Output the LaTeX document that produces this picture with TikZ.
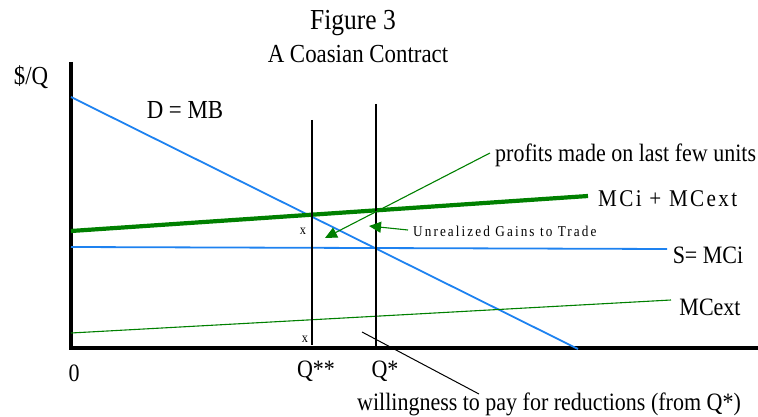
\documentclass[tikz,border=0pt]{standalone}
\usepackage{fontspec}
\setmainfont{Liberation Serif}[FakeStretch=0.88]
\usetikzlibrary{arrows.meta,calc}
\definecolor{dblue}{RGB}{30,130,240}
\definecolor{dgreen}{RGB}{0,128,0}
\tikzset{
  axis/.style={line width=3.8pt},
  blueline/.style={dblue, line width=1.8pt},
  greenthick/.style={dgreen, line width=4.2pt},
  greenthin/.style={dgreen, line width=1.1pt},
  vline/.style={black, line width=1.1pt},
  lbl/.style={inner sep=0pt, anchor=base, font=\fontsize{25}{28}\selectfont},
  small/.style={inner sep=0pt, anchor=base, font=\fontsize{14}{16}\selectfont},
  pointer/.style={-{Triangle[length=12pt,width=11pt]}},
}
\begin{document}
\begin{tikzpicture}[x=1pt,y=-1pt]
\useasboundingbox (0,0) rectangle (758,417);
% title
\node[lbl, font=\fontsize{29}{32}\selectfont] (t1) at (353,30) {Figure 3};
\node[lbl, font=\fontsize{26}{29}\selectfont] (t2) at (358,63) {A Coasian Contract};
% axes
\coordinate (o) at (71,348);
\coordinate (ytop) at (71,62);
\coordinate (xend) at (758,348);
\draw[axis] (ytop) -- (o) -- (xend);
\node[lbl, font=\fontsize{26}{29}\selectfont] (yl) at (31,85) {\$/Q};
\node[lbl] (zero) at (74,381) {0};
% demand
\coordinate (d1) at (71,97);
\coordinate (d2) at (578,349);
\draw[blueline] (d1) -- (d2);
\node[lbl, font=\fontsize{26}{29}\selectfont] (dl) at (185,119) {D = MB};
% S = MCi
\coordinate (s1) at (71,247);
\coordinate (s2) at (667,249);
\draw[blueline] (s1) -- (s2);
\node[lbl] (sl) at (708,263) {S= MCi};
% MCi + MCext
\coordinate (m1) at (71,231);
\coordinate (m2) at (588,196);
\draw[greenthick] (m1) -- (m2);
\node[lbl, anchor=base west, font=\fontsize{24}{27}\selectfont\addfontfeature{LetterSpace=10}] (ml) at (598,207) {MCi + MCext};
% MCext
\coordinate (e1) at (71,333);
\coordinate (e2) at (671,300);
\draw[greenthin] (e1) -- (e2);
\node[lbl] (el) at (710,315) {MCext};
% verticals
\coordinate (q2t) at (312,120);
\coordinate (q2b) at (312,345);
\draw[vline] (q2t) -- (q2b);
\coordinate (q1t) at (376,104);
\coordinate (q1b) at (376,348);
\draw[vline] (q1t) -- (q1b);
\node[small] (x1) at (303,234) {x};
\node[small] (x2) at (305,342) {x};
\node[lbl] (q2l) at (316,377) {Q**};
\node[lbl] (q1l) at (385,377) {Q*};
% profits
\node[lbl, anchor=base west] (pl) at (495,162) {profits made on last few units};
\coordinate (ptip) at (325,238);
\coordinate (pstart) at (490,153);
\draw[greenthin, pointer] (pstart) -- (ptip);
% unrealized
\node[small, anchor=base west, font=\fontsize{15}{17}\selectfont\addfontfeature{LetterSpace=14}] (ul) at (413,236) {Unrealized Gains to Trade};
\coordinate (utip) at (369,226);
\coordinate (ustart) at (408,230);
\draw[greenthin, pointer] (ustart) -- (utip);
% willingness
\node[lbl] (wl) at (549,410) {willingness to pay for reductions (from Q*)};
\coordinate (ws) at (362,332);
\coordinate (we) at (479,394);
\draw[black, line width=1pt] (ws) -- (we);
\end{tikzpicture}
\end{document}
